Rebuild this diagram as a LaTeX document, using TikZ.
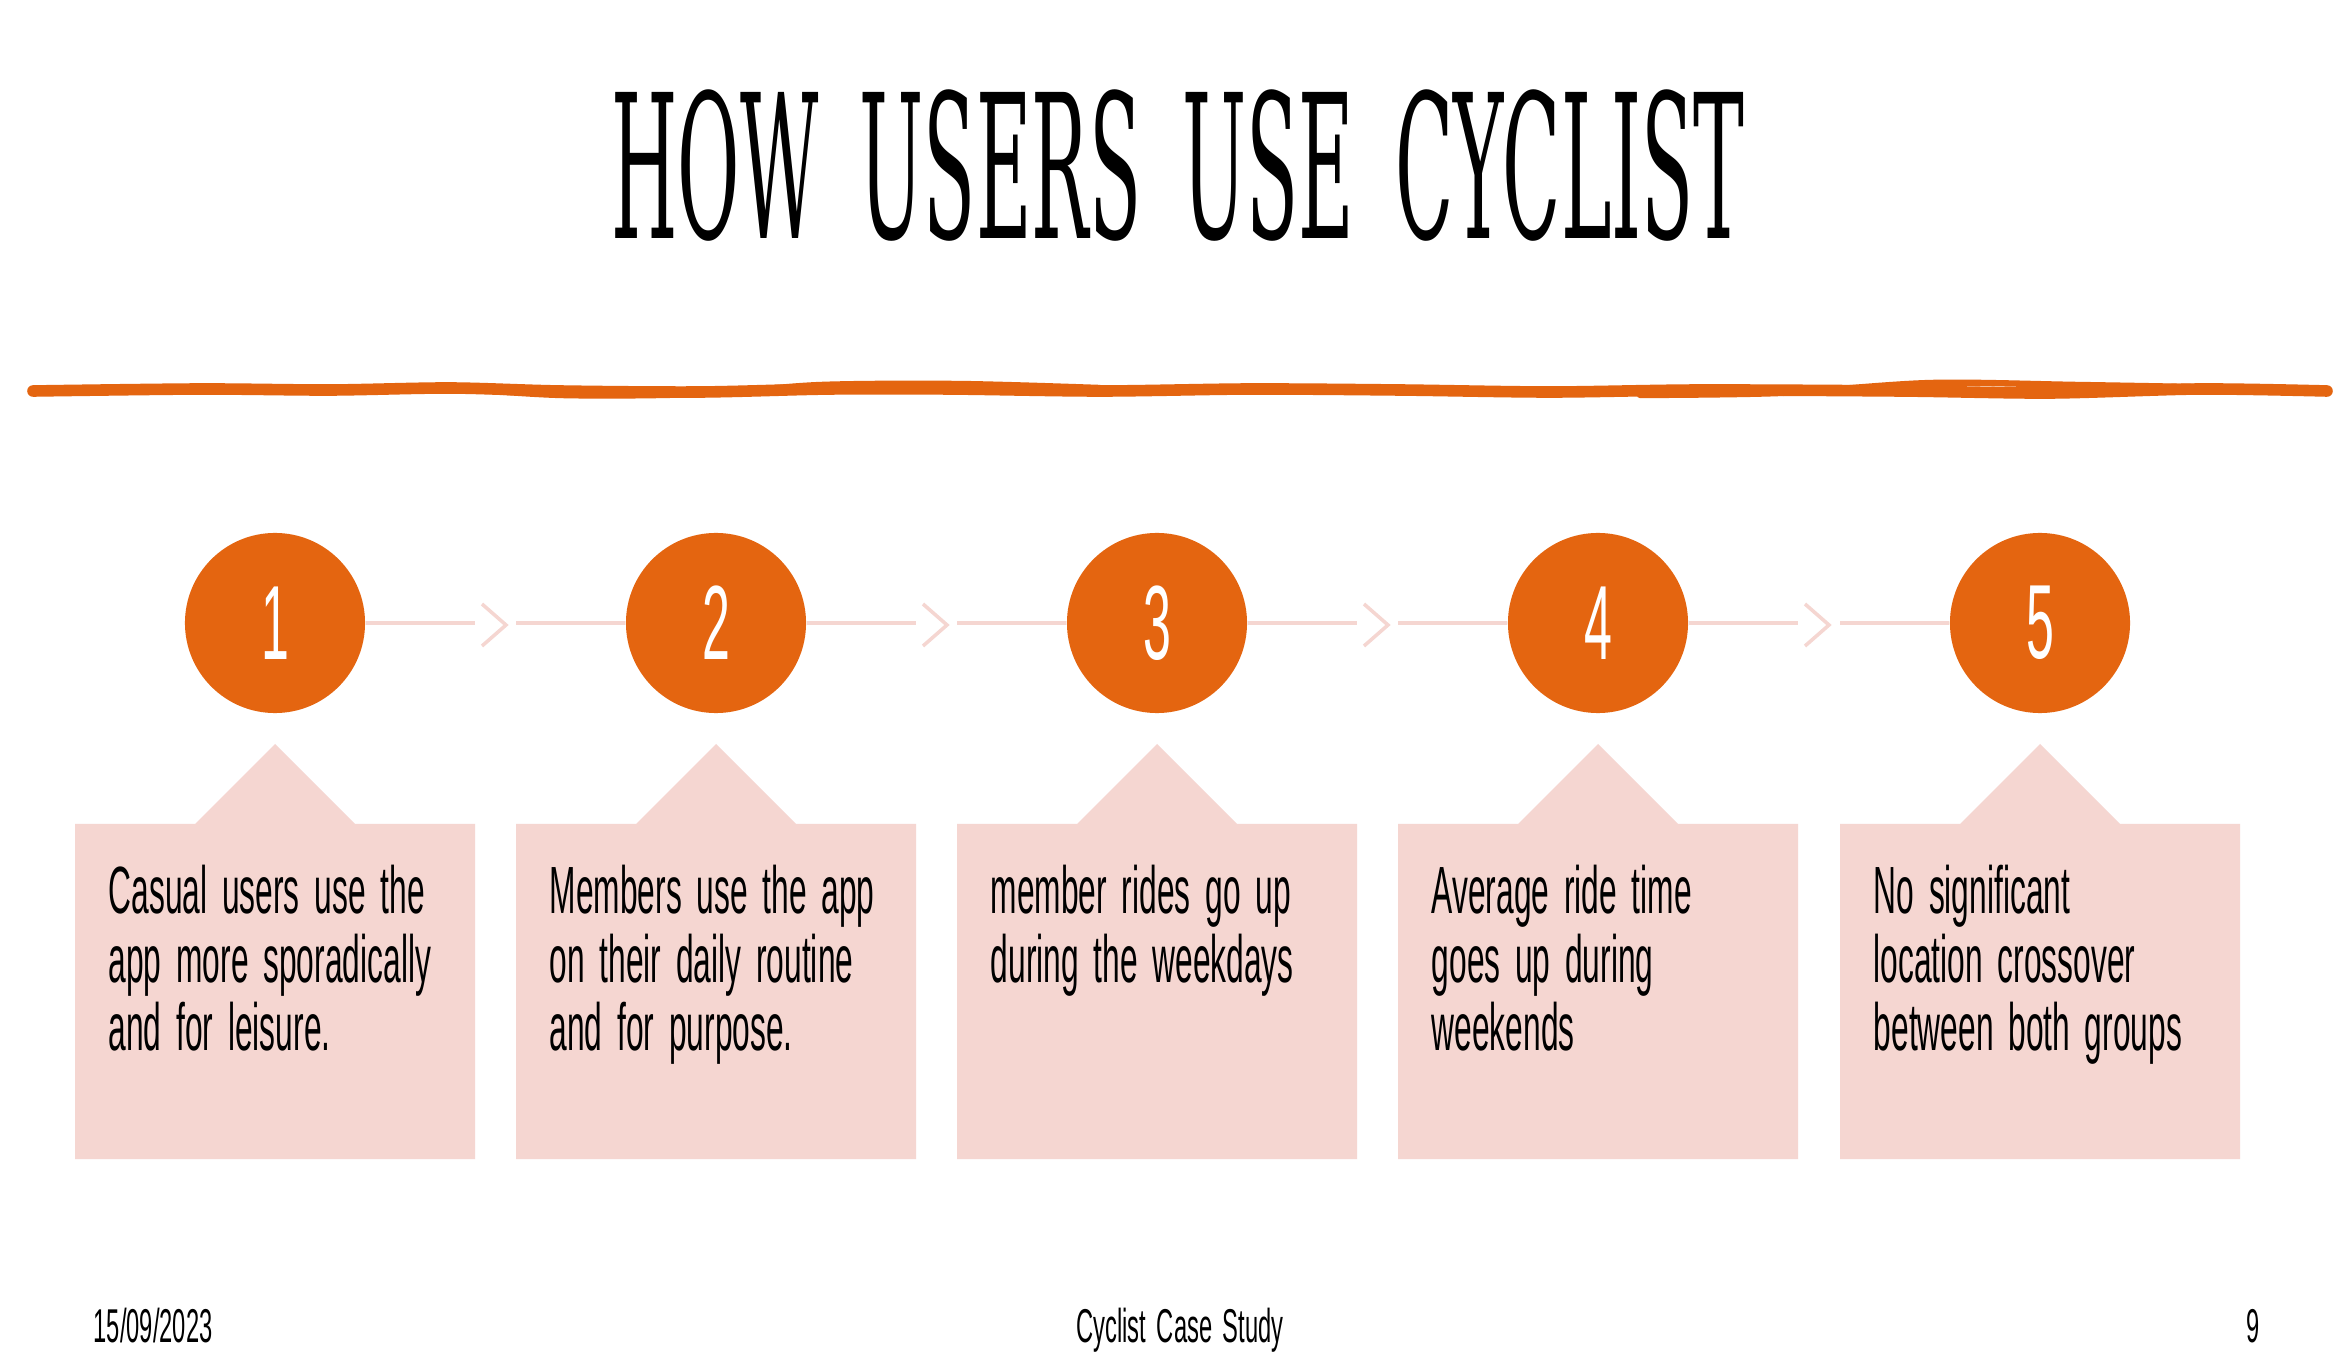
\documentclass[tikz,border=0pt]{standalone}
\usepackage{fontspec}
\usepackage{tikz}
\newfontfamily\titlefam[FakeStretch=0.38,WordSpace=1.7]{DejaVu Serif}
\newfontfamily\bodyfam[FakeStretch=0.475]{Liberation Sans}
\newfontfamily\footfam[FakeStretch=0.5]{Liberation Sans}
\newcommand\notefont{\bodyfam\fontsize{19}{19.6}\selectfont\spaceskip=4.2pt\relax}
\newcommand\footfont{\footfam\fontsize{13.5}{15}\selectfont\spaceskip=3pt\relax}
\definecolor{cyorange}{HTML}{E46510}
\definecolor{cypink}{HTML}{F5D6D1}

\begin{document}
\begin{tikzpicture}[x=0.01cm,y=-0.01cm,
  stepdot/.style={circle,fill=cyorange,minimum size=1.8cm,inner sep=0pt,text=white,font=\bodyfam\fontsize{30}{30}\selectfont},
  link/.style={draw=cypink,line width=1pt},
  boxfill/.style={fill=cypink},
  note/.style={anchor=north west,inner sep=0pt,align=left,font=\notefont},
  wavy/.style={draw=cyorange,line width=3.3pt,line cap=round}]
\fill[white] (0,0) rectangle (2347,1364);
\useasboundingbox (0,0) rectangle (2347,1364);

% title
\node[anchor=base,inner sep=0pt,font=\titlefam\fontsize{57}{60}\selectfont] (title) at (1178,239) {HOW USERS USE CYCLIST};

% hand drawn rule
\draw[wavy] plot[smooth] coordinates {(33,391) (200,389) (330,390) (450,388) (560,391) (700,392) (830,389) (950,389) (1100,391) (1250,389) (1400,390) (1550,392) (1700,390) (1900,391) (2050,393) (2200,389) (2327,391)};
\draw[draw=cyorange,line width=1.8pt,line cap=round] plot[smooth] coordinates {(440,387) (560,395) (700,394) (820,385) (960,384) (1100,388)};
\draw[draw=cyorange,line width=1.8pt,line cap=round] plot[smooth] coordinates {(1640,395) (1780,393) (1930,383) (2080,385) (2250,388)};

% boxes
\fill[boxfill] (75,1159) -- (75,824) -- (195,824) -- (275,744) -- (355,824) -- (475,824) -- (475,1159) -- cycle;
\fill[boxfill] (516,1159) -- (516,824) -- (636,824) -- (716,744) -- (796,824) -- (916,824) -- (916,1159) -- cycle;
\fill[boxfill] (957,1159) -- (957,824) -- (1077,824) -- (1157,744) -- (1237,824) -- (1357,824) -- (1357,1159) -- cycle;
\fill[boxfill] (1398,1159) -- (1398,824) -- (1518,824) -- (1598,744) -- (1678,824) -- (1798,824) -- (1798,1159) -- cycle;
\fill[boxfill] (1840,1159) -- (1840,824) -- (1960,824) -- (2040,744) -- (2120,824) -- (2240,824) -- (2240,1159) -- cycle;

% steps
\node[stepdot] (c1) at (275,623) {1};
\node[stepdot] (c2) at (716,623) {2};
\node[stepdot] (c3) at (1157,623) {3};
\node[stepdot] (c4) at (1598,623) {4};
\node[stepdot] (c5) at (2040,623) {5};

\draw[link] (c1) -- (475,623);
\draw[link] (482,604) -- (506,625) -- (482,646);
\draw[link] (516,623) -- (c2);
\draw[link] (c2) -- (916,623);
\draw[link] (923,604) -- (947,625) -- (923,646);
\draw[link] (957,623) -- (c3);
\draw[link] (c3) -- (1357,623);
\draw[link] (1364,604) -- (1388,625) -- (1364,646);
\draw[link] (1398,623) -- (c4);
\draw[link] (c4) -- (1798,623);
\draw[link] (1805,604) -- (1829,625) -- (1805,646);
\draw[link] (1840,623) -- (c5);

% texts
\node[note] (t1) at (108,864) {Casual users use the\\app more sporadically\\and for leisure.};
\node[note] (t2) at (549,864) {Members use the app\\on their daily routine\\and for purpose.};
\node[note] (t3) at (990,864) {member rides go up\\during the weekdays};
\node[note] (t4) at (1431,864) {Average ride time\\goes up during\\weekends};
\node[note] (t5) at (1873,864) {No significant\\location crossover\\between both groups};

% footer
\node[anchor=base west,inner sep=0pt,font=\footfont] (date) at (93,1342) {15/09/2023};
\node[anchor=base,inner sep=0pt,font=\footfont] (foot) at (1180,1342) {Cyclist Case Study};
\node[anchor=base east,inner sep=0pt,font=\footfont] (page) at (2260,1342) {9};
\end{tikzpicture}
\end{document}
